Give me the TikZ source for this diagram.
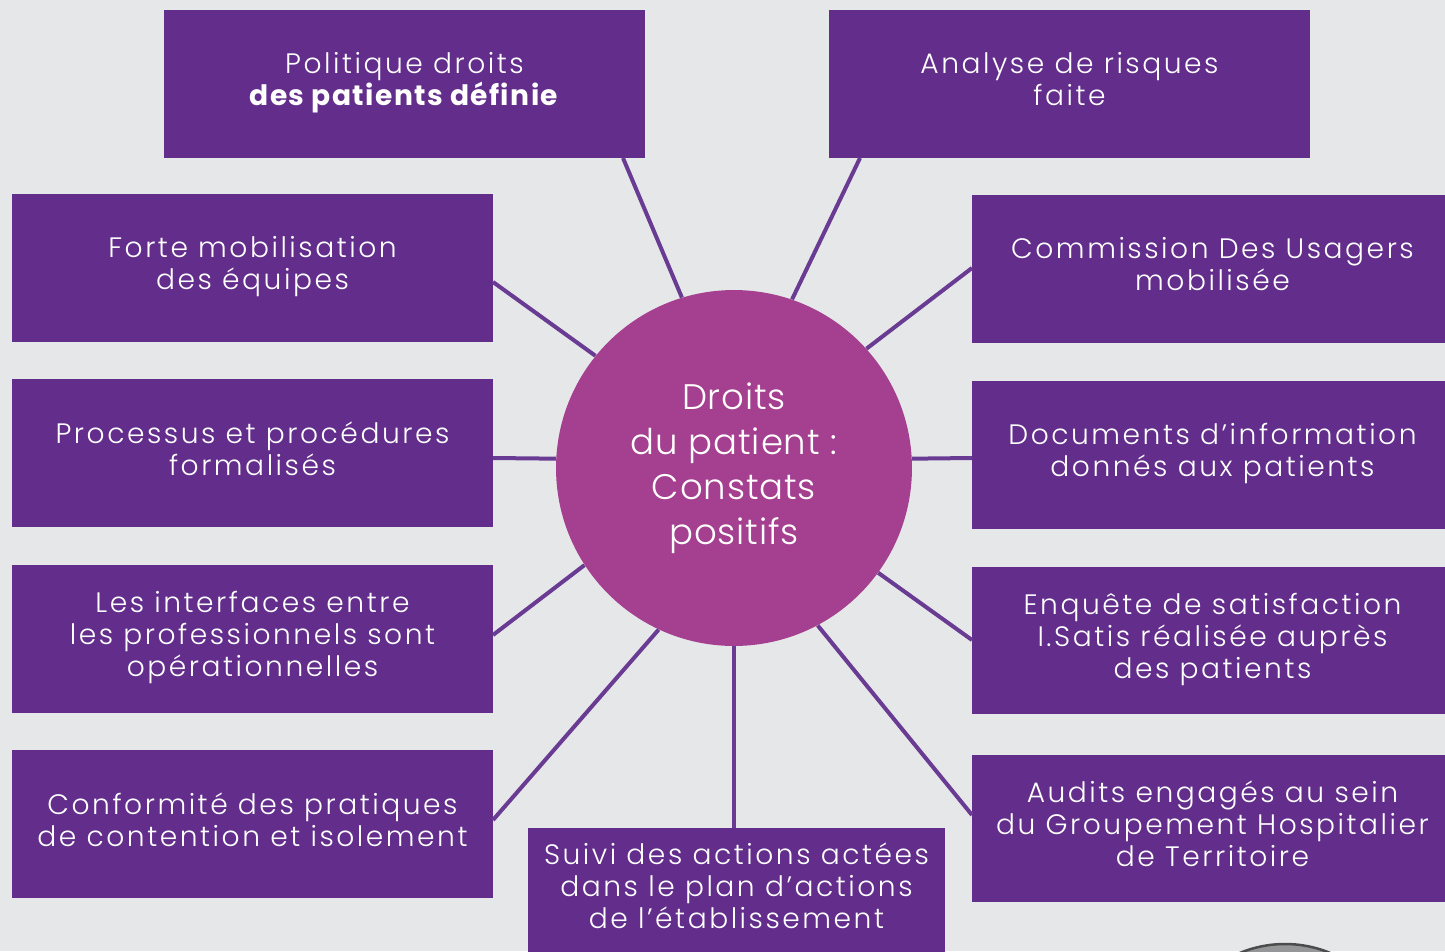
\documentclass[tikz,border=0pt]{standalone}
\usepackage{fontspec}
\setmainfont{Poppins}[UprightFont=* Light, BoldFont=* Bold]
\definecolor{bggrey}{HTML}{E6E7E9}
\definecolor{boxpurple}{HTML}{632E8B}
\definecolor{linkpurple}{HTML}{693B93}
\definecolor{discpink}{HTML}{A4408F}
\tikzset{
  box/.style={fill=boxpurple, text=white, align=center, inner sep=0pt,
    minimum width=9.62cm, minimum height=2.96cm,
    font=\fontsize{16}{18.2}\selectfont\addfontfeature{LetterSpace=9},
    execute at end node=\strut},
  disc/.style={circle, fill=discpink, text=white, align=center,
    minimum size=7.12cm, inner sep=0pt,
    font=\fontsize{20.2}{25.6}\selectfont\addfontfeature{LetterSpace=2.5}},
  link/.style={draw=linkpurple, line width=0.08cm},
}
\begin{document}
\begin{tikzpicture}[x=0.02cm, y=-0.02cm]
  \fill[bggrey] (0,0) rectangle (1445,951);
  \useasboundingbox (0,0) rectangle (1445,951);
  \clip (0,0) rectangle (1445,951);
  % cut-off disc in the lower right corner
  \draw[draw=black!70, fill=black!35!bggrey, line width=0.05cm] (1285,1062) circle (118);
  \node[disc] (centre) at (734,468) {Droits\\du patient :\\Constats\\positifs};
  \draw
    (404.5,84) node[box] (1) {Politique droits\\\textbf{\addfontfeature{LetterSpace=5}des patients définie}}
    (1069.5,84) node[box] (2) {Analyse de risques\\faite}
    (252.5,268) node[box] (3) {Forte mobilisation\\des équipes}
    (1212.5,269) node[box] (4) {Commission Des Usagers\\mobilisée}
    (252.5,453) node[box] (5) {Processus et procédures\\formalisés}
    (1212.5,455) node[box] (6) {Documents d’information\\donnés aux patients}
    (252.5,639) node[box] (7) {Les interfaces entre\\les professionnels sont\\opérationnelles}
    (1212.5,640.5) node[box] (8) {Enquête de satisfaction\\I.Satis réalisée auprès\\des patients}
    (252.5,824) node[box] (9) {Conformité des pratiques\\de contention et isolement}
    (1212.5,828.5) node[box] (10) {Audits engagés au sein\\du Groupement Hospitalier\\de Territoire}
    (736.5,890) node[box, minimum width=8.34cm, minimum height=2.48cm] (11)
      {Suivi des actions actées\\dans le plan d’actions\\de l’établissement};
  % where the links meet the boxes
  \coordinate (e1) at (623,158);
  \coordinate (e2) at (860,158);
  \coordinate (e3) at (493,282);
  \coordinate (e4) at (972,268);
  \coordinate (e5) at (493,458);
  \coordinate (e6) at (972,458);
  \coordinate (e7) at (493,635);
  \coordinate (e8) at (972,640);
  \coordinate (e9) at (493,820);
  \coordinate (e10) at (972,815);
  \coordinate (e11) at (734,828);
  \begin{scope}[link]
    \foreach \i/\a in {1/107.7, 2/71.7, 3/141.6, 4/42, 5/177, 6/3,
                       7/213.3, 8/324.8, 9/245.3, 10/298, 11/270}
      \draw (centre.\a) -- (e\i);
  \end{scope}
\end{tikzpicture}
\end{document}
